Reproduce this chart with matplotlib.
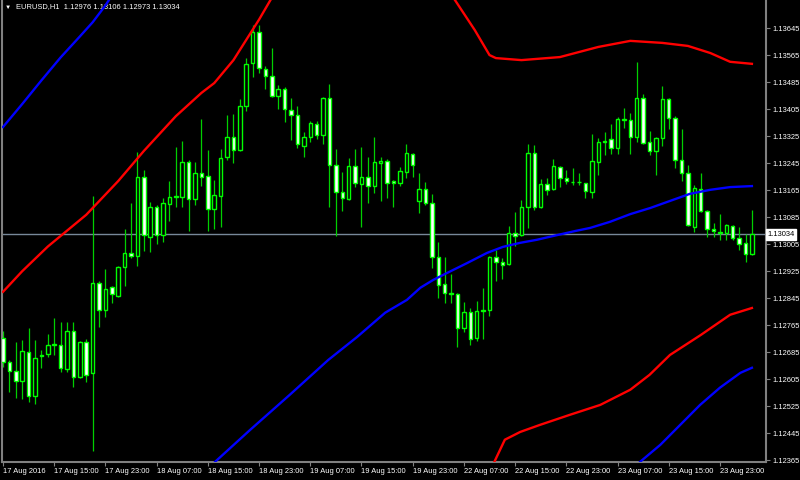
import numpy as np
import matplotlib
matplotlib.use("Agg")
import matplotlib.pyplot as plt
import matplotlib.transforms as mtransforms

plt.rcParams['font.family'] = ['Liberation Sans', 'DejaVu Sans']

# EURUSD H1 candles, 17 Aug 2016 07:00 onwards (values in 1e-5 units)
opens = [112728, 112656, 112630, 112600, 112686, 112556, 112674, 112680, 112707, 112707,
         112636, 112748, 112612, 112716, 112624, 112890, 112810, 112878, 112852, 112938,
         112979, 112970, 113204, 113026, 113115, 113032, 113124, 113145, 113145, 113248,
         113139, 113216, 113207, 113109, 113148, 113263, 113322, 113284, 113414, 113542,
         113633, 113524, 113503, 113444, 113465, 113402, 113388, 113296, 113322, 113361,
         113328, 113438, 113240, 113160, 113139, 113236, 113183, 113204, 113177, 113245,
         113251, 113192, 113186, 113219, 113272, 113133, 113169, 113127, 112967, 112887,
         112861, 112858, 112757, 112804, 112728, 112807, 112810, 112967, 112952, 112947,
         113038, 113032, 113115, 113275, 113115, 113183, 113169, 113233, 113201, 113190,
         113188, 113186, 113160, 113248, 113308, 113316, 113290, 113373, 113373, 113322,
         113438, 113308, 113281, 113319, 113435, 113379, 113254, 113216, 113056, 113169,
         113103, 113050, 113038, 113038, 113059, 113023, 113009, 112976]
highs = [112748, 112662, 112716, 112722, 112757, 112722, 112692, 112739, 112787, 112775,
         112775, 112775, 112719, 112725, 113148, 112896, 112932, 112881, 112941, 113050,
         113127, 113278, 113225, 113130, 113121, 113142, 113192, 113293, 113311, 113254,
         113248, 113376, 113284, 113195, 113287, 113388, 113391, 113435, 113556, 113654,
         113654, 113533, 113586, 113477, 113471, 113438, 113414, 113337, 113370, 113370,
         113441, 113479, 113287, 113219, 113260, 113287, 113293, 113263, 113322, 113263,
         113257, 113195, 113233, 113302, 113275, 113216, 113189, 113154, 113012, 112967,
         112917, 112861, 112834, 112816, 112837, 112876, 112970, 112988, 112964, 113059,
         113100, 113136, 113302, 113299, 113198, 113201, 113257, 113236, 113225, 113230,
         113216, 113186, 113331, 113319, 113337, 113361, 113382, 113408, 113394, 113544,
         113450, 113340, 113322, 113473, 113438, 113385, 113346, 113240, 113180, 113216,
         113106, 113068, 113094, 113065, 113062, 113056, 113035, 113106]
lows = [112642, 112568, 112550, 112547, 112538, 112532, 112639, 112671, 112677, 112627,
        112627, 112582, 112609, 112597, 112393, 112760, 112790, 112831, 112849, 112881,
        112964, 112941, 112985, 112982, 113006, 113012, 113074, 113115, 113115, 113044,
        113121, 113177, 113044, 113050, 113056, 113254, 113245, 113281, 113399, 113500,
        113512, 113465, 113441, 113405, 113367, 113314, 113290, 113263, 113308, 113316,
        113302, 113115, 113029, 113103, 113136, 113174, 113056, 113127, 113157, 113133,
        113142, 113115, 113177, 113201, 113204, 113098, 113121, 112935, 112846, 112831,
        112831, 112701, 112745, 112707, 112719, 112725, 112793, 112896, 112902, 112944,
        113000, 113029, 113053, 113106, 113112, 113151, 113166, 113174, 113183, 113180,
        113180, 113142, 113142, 113210, 113269, 113272, 113272, 113349, 113272, 113308,
        113302, 113269, 113210, 113296, 113346, 113230, 113192, 113059, 113041, 113100,
        113026, 113026, 113018, 113018, 113018, 112988, 112952, 112973]
closes = [112656, 112630, 112600, 112689, 112556, 112668, 112677, 112707, 112710, 112639,
          112748, 112612, 112716, 112618, 112890, 112810, 112873, 112858, 112938, 112979,
          112970, 113204, 113032, 113115, 113032, 113127, 113145, 113148, 113248, 113139,
          113216, 113204, 113109, 113151, 113260, 113322, 113284, 113414, 113539, 113633,
          113527, 113503, 113444, 113465, 113405, 113388, 113302, 113322, 113364, 113328,
          113438, 113240, 113160, 113142, 113236, 113186, 113204, 113177, 113248, 113251,
          113186, 113186, 113222, 113275, 113240, 113169, 113127, 112967, 112884, 112861,
          112858, 112757, 112804, 112725, 112807, 112810, 112967, 112952, 112944, 113038,
          113029, 113115, 113275, 113115, 113183, 113166, 113236, 113201, 113192, 113188,
          113190, 113163, 113251, 113308, 113311, 113290, 113376, 113376, 113322, 113438,
          113305, 113281, 113319, 113435, 113379, 113254, 113216, 113062, 113172, 113103,
          113050, 113044, 113041, 113062, 113023, 113006, 112976, 113034]

# indicator lines, sampled at bar positions (values in 1e-5 units)
red_top1_x = [0, 3, 7, 13, 18, 22, 27, 31, 33, 36, 38, 40, 42, 44]
red_top1_y = [112864, 112925, 112998, 113092, 113192, 113281, 113384, 113453, 113482,
              113550, 113610, 113670, 113735, 113800]
red_top2_x = [68, 70.6, 73.7, 76, 77, 81, 87, 93, 98, 103, 107, 110.5, 113.6, 117]
red_top2_y = [113800, 113728, 113639, 113565, 113556, 113550, 113559, 113589, 113607,
              113601, 113592, 113571, 113545, 113539]
red_bot_x = [76, 78.4, 80.8, 83.9, 88.6, 93.3, 98, 101, 104.2, 109, 113.6, 117]
red_bot_y = [112330, 112426, 112449, 112470, 112500, 112529, 112574, 112618, 112677,
             112736, 112796, 112816]
blue_mid_x = [32, 33.1, 38.6, 44.8, 50.8, 55.3, 59.7, 63.1, 65.2, 67.2, 69.4, 72.5, 75.6,
              78.1, 80.8, 83.4, 85.9, 89.4, 91.7, 94.8, 98, 101.1, 104.2, 107.3, 110.5,
              113.6, 117]
blue_mid_y = [112330, 112360, 112455, 112559, 112662, 112730, 112802, 112840, 112876,
              112899, 112920, 112949, 112979, 112997, 113009, 113018, 113029, 113044,
              113053, 113071, 113094, 113112, 113133, 113154, 113166, 113174, 113177]
blue_top_x = [0, 3, 6, 9, 12, 14, 16, 18]
blue_top_y = [113352, 113420, 113490, 113558, 113620, 113662, 113712, 113770]
blue_bot_x = [98, 99.5, 102.7, 105.8, 108.9, 112, 115.2, 117]
blue_bot_y = [112320, 112360, 112411, 112470, 112529, 112580, 112624, 112639]

tick_labels = ["17 Aug 2016", "17 Aug 15:00", "17 Aug 23:00", "18 Aug 07:00",
               "18 Aug 15:00", "18 Aug 23:00", "19 Aug 07:00", "19 Aug 15:00",
               "19 Aug 23:00", "22 Aug 07:00", "22 Aug 15:00", "22 Aug 23:00",
               "23 Aug 07:00", "23 Aug 15:00", "23 Aug 23:00"]
price_ticks = [1.12365, 1.12445, 1.12525, 1.12605, 1.12685, 1.12765, 1.12845, 1.12925,
               1.13005, 1.13085, 1.13165, 1.13245, 1.13325, 1.13405, 1.13485, 1.13565,
               1.13645]
bid = 1.13034
title = "EURUSD,H1  1.12976 1.13106 1.12973 1.13034"

S = 1e-5
o = np.array(opens) * S
h = np.array(highs) * S
l = np.array(lows) * S
c = np.array(closes) * S
x = np.arange(len(o))

fig = plt.figure(figsize=(8, 4.8), dpi=100, facecolor="black")
ax = fig.add_axes([2 / 800, 18 / 480, 764 / 800, 462 / 480])
ax.set_facecolor("black")

grey = "#808080"
lime = "#00ff00"

# wicks
ax.vlines(x, l, h, color="#00d000", linewidth=0.9, zorder=2)
# bodies: bullish black, bearish white
up = c >= o
bottom = np.minimum(o, c)
height = np.abs(c - o)
ax.bar(x, height, 0.55, bottom=bottom, color=np.where(up, "black", "white"),
       edgecolor=lime, linewidth=1.0, zorder=3)

for xs, ys, col in [(red_top1_x, red_top1_y, "#ff0000"), (red_top2_x, red_top2_y, "#ff0000"),
                    (red_bot_x, red_bot_y, "#ff0000"), (blue_mid_x, blue_mid_y, "#0000ff"),
                    (blue_top_x, blue_top_y, "#0000ff"), (blue_bot_x, blue_bot_y, "#0000ff")]:
    ax.plot(xs, np.array(ys) * S, color=col, linewidth=1.7, zorder=4)

ax.axhline(bid, color="#778899", linewidth=1.0, zorder=1)

ax.set_xlim(-0.16, 119.2)
ax.set_ylim(1.12360, 1.13728)

ax.set_xticks(np.arange(0, 8 * len(tick_labels), 8))
ax.set_xticklabels(tick_labels, ha="left", fontsize=5.4, color="white")
ax.yaxis.tick_right()
ax.set_yticks(price_ticks)
ax.set_yticklabels(["%.5f" % p for p in price_ticks], fontsize=5.4, color="white")
ax.tick_params(axis="x", colors=grey, labelcolor="white", length=3, width=0.8, pad=1)
ax.tick_params(axis="y", colors=grey, labelcolor="white", length=3, width=0.8, pad=1.5)

for side in ["left", "bottom", "right"]:
    ax.spines[side].set_color(grey)
    ax.spines[side].set_linewidth(1.5)
ax.spines["top"].set_visible(False)

trans = mtransforms.blended_transform_factory(ax.transAxes, ax.transData)
ax.text(1.002, bid, "%.5f" % bid, transform=trans, ha="left", va="center", fontsize=5.4,
        color="black", bbox=dict(facecolor="white", edgecolor="white", pad=1.2), zorder=6,
        clip_on=False)

ax.text(0.004, 0.985, "\u25bc", transform=ax.transAxes, ha="left", va="center",
        fontsize=4.5, color="white")
ax.text(0.018, 0.985, title, transform=ax.transAxes, ha="left", va="center",
        fontsize=5.4, color="white")

fig.savefig("out.png", dpi=100, facecolor="black")
